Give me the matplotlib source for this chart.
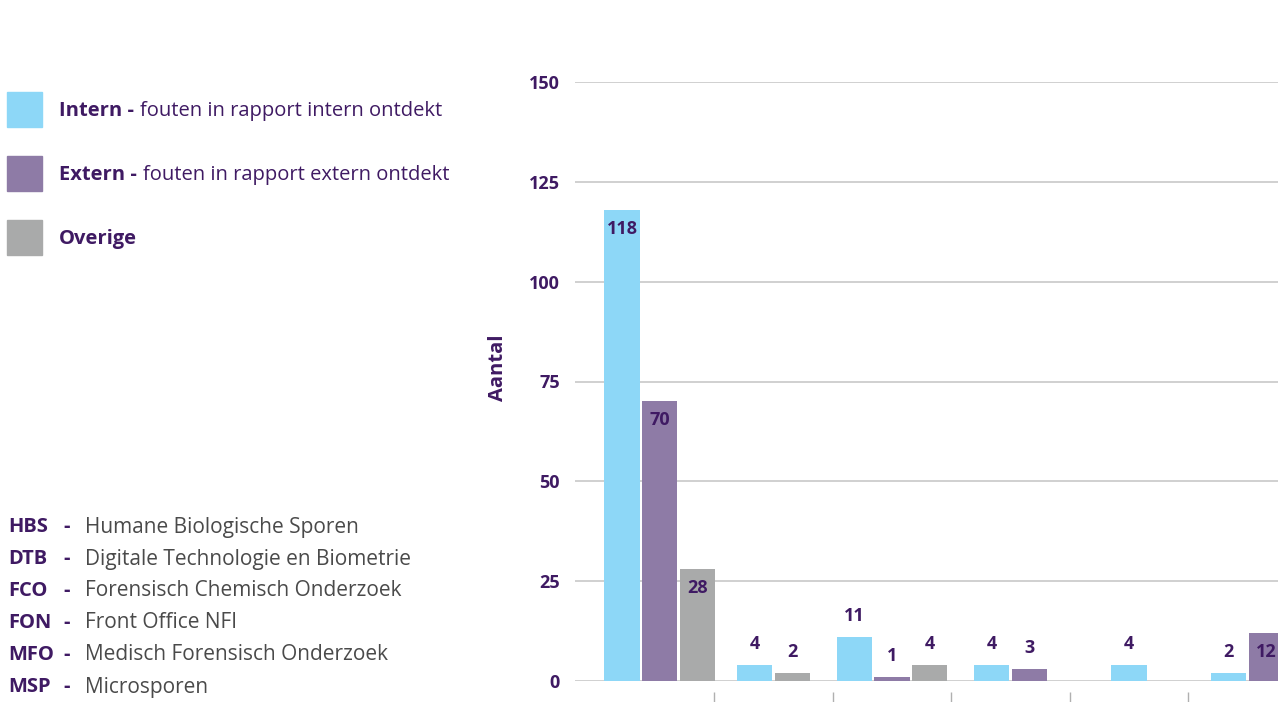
import numpy as np
import matplotlib.pyplot as plt
from matplotlib.patches import Rectangle

# data
afdelingen = ["HBS", "DTB", "FCO", "FON", "MFO", "MSP"]
omschrijving = ["Humane Biologische Sporen", "Digitale Technologie en Biometrie",
                "Forensisch Chemisch Onderzoek", "Front Office NFI",
                "Medisch Forensisch Onderzoek", "Microsporen"]
intern = [118, 4, 11, 4, 4, 2]
extern = [70, 0, 1, 3, 0, 12]
overige = [28, 2, 4, 0, 0, 0]

series_names = ["Intern", "Extern", "Overige"]
series_desc = ["fouten in rapport intern ontdekt", "fouten in rapport extern ontdekt", ""]
colors = ["#8dd7f7", "#8e7ba6", "#a9aaaa"]
yticks = [0, 25, 50, 75, 100, 125, 150]

purple = "#3f1a63"
grey_txt = "#4a4a4a"
FONT = "Open Sans"

W, H = 1278, 702
fig = plt.figure(figsize=(W / 100, H / 100), dpi=100)

# axes placed in pixel terms, extends past the right edge like the reference
left_px, right_px = 575, 575 + 6.325 * 118.5
ax = fig.add_axes([left_px / W, 1 - 681 / H, (right_px - left_px) / W, (681 - 82) / H])
ax.set_xlim(-0.675, 5.65)
ax.set_ylim(0, 150)

bar_w = 0.298
step = 0.318
series = [intern, extern, overige]
for i in range(len(afdelingen)):
    vals = [(k, s[i]) for k, s in enumerate(series) if s[i] > 0]
    n = len(vals)
    for j, (k, v) in enumerate(vals):
        x = i + (j - (n - 1) / 2) * step + (0.04 if i == 0 else 0)
        ax.bar(x, v, width=bar_w, color=colors[k], zorder=3)
        if v >= 12:
            ax.text(x, v - 2.5, str(v), ha="center", va="top", fontsize=13,
                    fontweight="bold", color=purple, family=FONT, zorder=4)
        else:
            ax.text(x, v + 3, str(v), ha="center", va="bottom", fontsize=13,
                    fontweight="bold", color=purple, family=FONT, zorder=4)

ax.set_yticks(yticks)
ax.set_yticklabels([str(t) for t in yticks], fontsize=13, fontweight="bold",
                   color=purple, family=FONT)
ax.yaxis.grid(True, color="#c4c4c4", linewidth=1.1, zorder=0)
ax.tick_params(axis="y", length=0, pad=11)
ax.set_xticks([])
ax.set_xticks(np.arange(len(afdelingen) - 1) + 0.5, minor=True)
ax.tick_params(axis="x", which="minor", length=12, width=1, color="#b0b0b0",
               direction="out")
for s in ["top", "right", "left", "bottom"]:
    ax.spines[s].set_visible(False)
ax.spines["bottom"].set_position(("outward", 8))
ax.set_ylabel("Aantal", fontsize=14.5, fontweight="bold", color=purple, family=FONT)
ax.yaxis.set_label_coords(-0.09, (681 - 368) / (681 - 82))

renderer = fig.canvas.get_renderer()

# legend on the left
leg_y = [110, 174, 238]
for k in range(3):
    fig.patches.append(Rectangle((7 / W, 1 - (leg_y[k] + 17) / H), 35 / W, 35 / H,
                                 transform=fig.transFigure, color=colors[k]))
    label = series_names[k] + (" -" if series_desc[k] else "")
    t = fig.text(59 / W, 1 - (leg_y[k] + 1) / H, label, fontsize=14.5,
                 fontweight="bold", color=purple, family=FONT, va="center")
    if series_desc[k]:
        bb = t.get_window_extent(renderer)
        fig.text((bb.x1 + 6) / W, 1 - (leg_y[k] + 1) / H, series_desc[k],
                 fontsize=14.5, color=purple, family=FONT, va="center")

# afkortingen list
for i, (code, desc) in enumerate(zip(afdelingen, omschrijving)):
    y = 1 - (527 + 32 * i) / H
    fig.text(8 / W, y, code, fontsize=14.5, fontweight="bold", color=purple,
             family=FONT, va="center")
    fig.text(63 / W, y, "-", fontsize=14.5, fontweight="bold", color=purple,
             family=FONT, va="center")
    fig.text(85 / W, y, desc, fontsize=15, color=grey_txt, family=FONT,
             va="center")

fig.savefig("out.png", dpi=100)
